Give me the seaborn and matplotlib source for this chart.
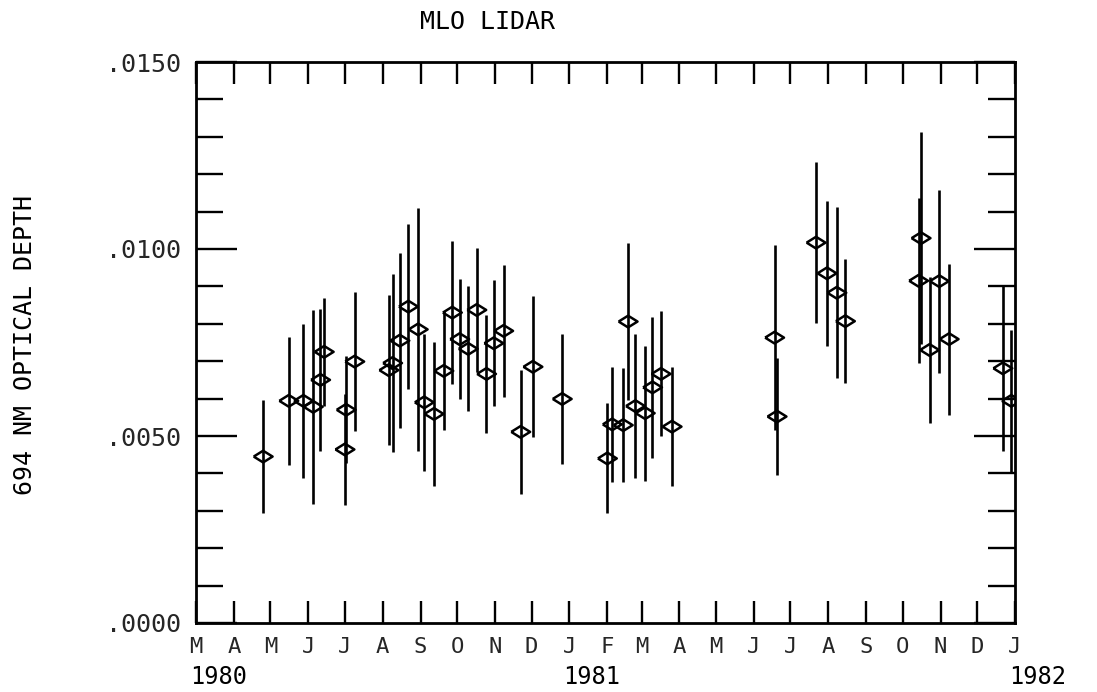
import matplotlib
matplotlib.use("Agg")
import matplotlib.pyplot as plt
import matplotlib.dates as mdates
import matplotlib.transforms as mtransforms
from matplotlib.ticker import MultipleLocator, FuncFormatter
import numpy as np
import pandas as pd
import seaborn as sns

# ---- data ----
dates = ["1980-04-25", "1980-05-16", "1980-05-28", "1980-06-05", "1980-06-11",
         "1980-06-14", "1980-07-02", "1980-07-01", "1980-07-09", "1980-08-06",
         "1980-08-09", "1980-08-15", "1980-08-22", "1980-08-30", "1980-09-04",
         "1980-09-12", "1980-09-20", "1980-09-27", "1980-10-03", "1980-10-10",
         "1980-10-17", "1980-10-25", "1980-10-31", "1980-11-08", "1980-11-22",
         "1980-12-02", "1980-12-26", "1981-02-01", "1981-02-05", "1981-02-14",
         "1981-02-18", "1981-02-24", "1981-03-04", "1981-03-10", "1981-03-17",
         "1981-03-26", "1981-06-18", "1981-06-20", "1981-07-22", "1981-07-31",
         "1981-08-08", "1981-08-15", "1981-10-16", "1981-10-14", "1981-10-23",
         "1981-10-31", "1981-11-08", "1981-12-22", "1981-12-29"]
depth_e3 = [4.45, 5.94, 5.94, 5.78, 6.50, 7.25, 5.70, 4.64, 6.99, 6.76,
            6.95, 7.55, 8.46, 7.85, 5.90, 5.59, 6.74, 8.30, 7.59, 7.33,
            8.37, 6.66, 7.48, 7.81, 5.11, 6.85, 5.99, 4.40, 5.31, 5.29,
            8.06, 5.80, 5.61, 6.30, 6.66, 5.25, 7.63, 5.52, 10.17, 9.35,
            8.83, 8.07, 10.29, 9.15, 7.30, 9.14, 7.59, 6.81, 5.94]
error_e3 = [1.51, 1.71, 2.06, 2.59, 1.90, 1.44, 1.43, 1.49, 1.86, 2.00,
            2.38, 2.34, 2.21, 3.24, 1.83, 1.93, 1.59, 1.92, 1.61, 1.67,
            1.66, 1.58, 1.69, 1.76, 1.65, 1.89, 1.74, 1.47, 1.54, 1.52,
            2.11, 1.93, 1.80, 1.89, 1.67, 1.60, 2.48, 1.56, 2.16, 1.94,
            2.28, 1.65, 2.84, 2.21, 1.96, 2.45, 2.02, 2.21, 1.90]
month_letters = ["M", "A", "M", "J", "J", "A", "S", "O", "N", "D", "J",
                 "F", "M", "A", "M", "J", "J", "A", "S", "O", "N", "D", "J"]
year_labels = ["1980", "1981", "1982"]
year_dates = ["1980-03-01", "1981-01-01", "1982-01-01"]
y_ticks = [0.0, 0.005, 0.010, 0.015]

df = pd.DataFrame({
    "date": pd.to_datetime(dates),
    "depth": np.array(depth_e3) * 1e-3,
    "err": np.array(error_e3) * 1e-3,
})

sns.set_theme(style="ticks")
plt.rcParams["font.family"] = ["DejaVu Sans Mono", "DejaVu Sans"]

fig = plt.figure(figsize=(10.97, 6.92), dpi=100)
ax = fig.add_axes([196 / 1097, 1 - 623 / 692, (1015 - 196) / 1097, (623 - 62) / 692])

# error bars
ax.vlines(df["date"], df["depth"] - df["err"], df["depth"] + df["err"],
          colors="black", linewidth=1.9, zorder=2)

# open "eye" diamond markers
verts = [(-1.0, 0.0), (0.0, 0.62), (1.0, 0.0), (0.0, -0.62), (-1.0, 0.0)]
sns.scatterplot(data=df, x="date", y="depth", marker=verts, s=185,
                color="black", linewidth=1.8, ax=ax, zorder=3, legend=False)
coll = ax.collections[-1]
coll.set_facecolor("none")
coll.set_edgecolor("black")

ax.set_xlim(pd.Timestamp("1980-03-01"), pd.Timestamp("1982-01-01"))
ax.set_ylim(0.0, 0.015)

# x axis: monthly ticks with single letters
ax.xaxis.set_major_locator(mdates.MonthLocator())
ax.xaxis.set_major_formatter(FuncFormatter(
    lambda v, pos: month_letters[pos] if pos is not None and pos < len(month_letters) else ""))

# y axis
ax.set_yticks(y_ticks)
ax.yaxis.set_minor_locator(MultipleLocator(0.001))
ax.yaxis.set_major_formatter(FuncFormatter(lambda v, pos: f"{v:.4f}".lstrip("0")))

ax.tick_params(axis="both", which="both", direction="in", top=True, right=True,
               color="black", width=1.7)
ax.tick_params(axis="x", which="major", length=16, pad=10, labelsize=16)
ax.tick_params(axis="y", which="major", length=29.5, pad=11, labelsize=18)
ax.tick_params(axis="y", which="minor", length=19.5)

for sp in ax.spines.values():
    sp.set_linewidth(2.0)
    sp.set_color("black")
    sp.set_visible(True)

ax.set_xlabel("")
ax.set_ylabel("")

# year labels under the month letters
yr_trans = mtransforms.offset_copy(ax.get_xaxis_transform(), fig=fig, x=-6, y=0, units="dots")
for lab, d in zip(year_labels, year_dates):
    ax.text(mdates.date2num(pd.Timestamp(d)), -0.097, lab, transform=yr_trans,
            ha="left", va="center", fontsize=17, color="black")

fig.text(25 / 1097, 1 - 345 / 692, "694 NM OPTICAL DEPTH", rotation=90,
         ha="center", va="center", fontsize=18, color="black")
fig.text(488 / 1097, 1 - 22 / 692, "MLO LIDAR", ha="center", va="center",
         fontsize=18, color="black")

fig.savefig("out.png", dpi=100)
